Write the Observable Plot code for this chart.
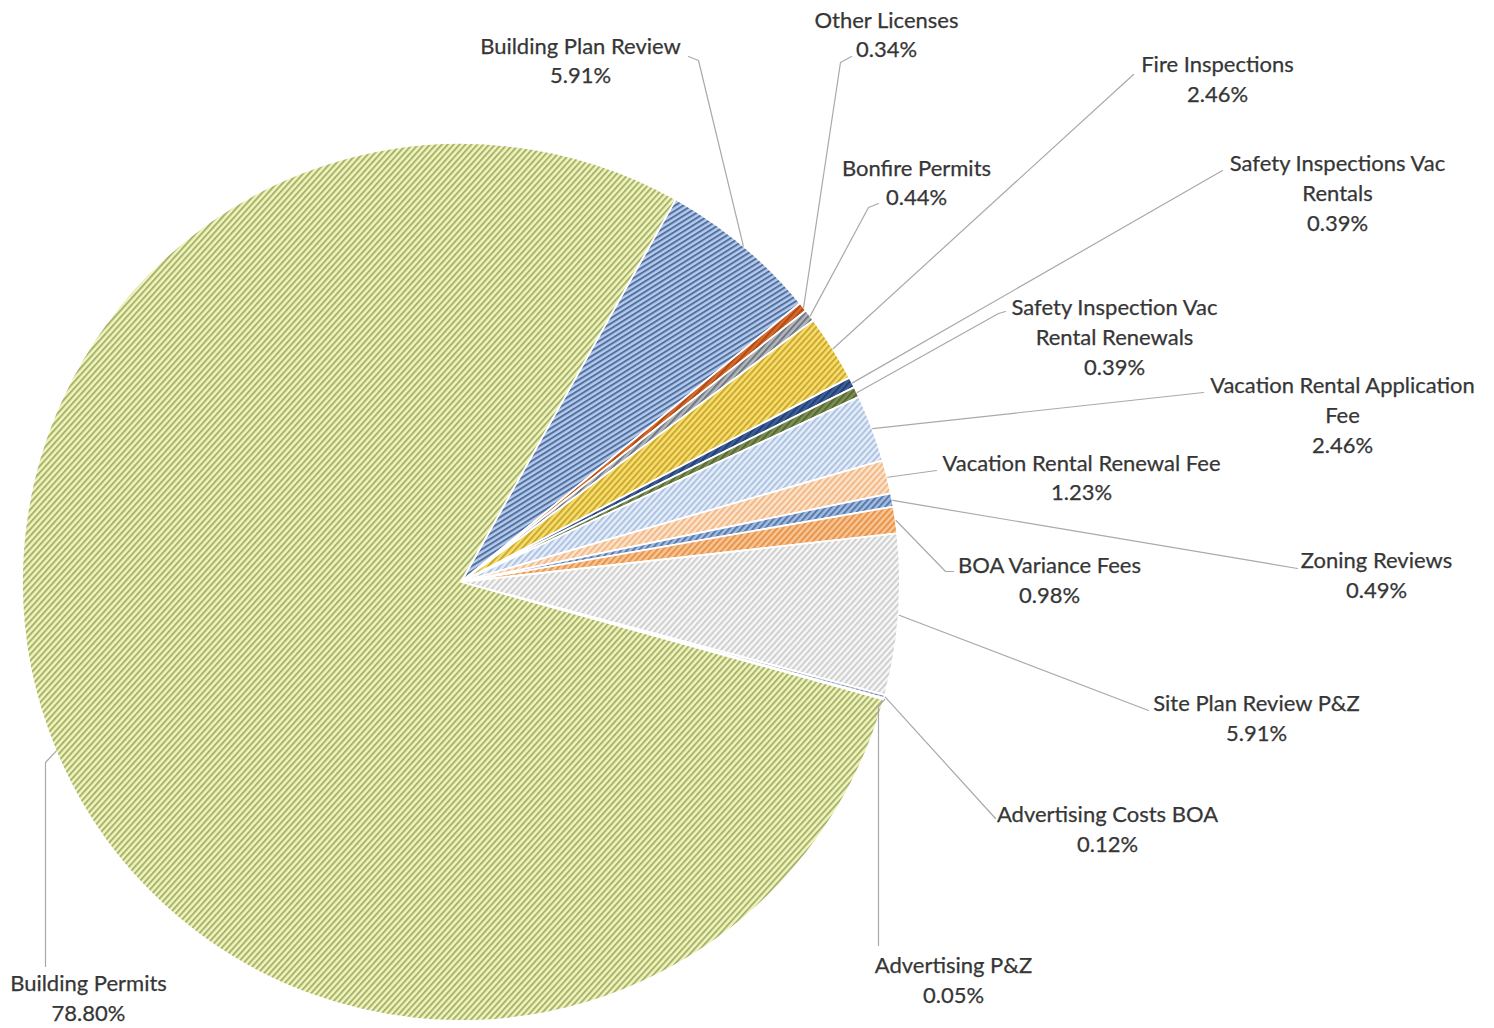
<!DOCTYPE html>
<html>
<head>
<meta charset="utf-8">
<script src="https://cdn.jsdelivr.net/npm/d3@7"></script>
<script src="https://cdn.jsdelivr.net/npm/@observablehq/plot@0.6"></script>
<style>
  html, body { margin: 0; padding: 0; background: #ffffff; }
  #chart { width: 1494px; height: 1028px; }
</style>
</head>
<body>
<div id="chart"></div>
<script>
// ---------- DATA ----------
const categories = [
  "Building Plan Review",
  "Other Licenses",
  "Bonfire Permits",
  "Fire Inspections",
  "Safety Inspections Vac Rentals",
  "Safety Inspection Vac Rental Renewals",
  "Vacation Rental Application Fee",
  "Vacation Rental Renewal Fee",
  "Zoning Reviews",
  "BOA Variance Fees",
  "Site Plan Review P&Z",
  "Advertising Costs BOA",
  "Advertising P&Z",
  "Building Permits"
];
const shares = [5.91, 0.34, 0.44, 2.46, 0.39, 0.39, 2.46, 1.23, 0.49, 0.98, 5.91, 0.12, 0.05, 78.80];
// label text as wrapped in the chart
const labelLines = [
  ["Building Plan Review"],
  ["Other Licenses"],
  ["Bonfire Permits"],
  ["Fire Inspections"],
  ["Safety Inspections Vac", "Rentals"],
  ["Safety Inspection Vac", "Rental Renewals"],
  ["Vacation Rental Application", "Fee"],
  ["Vacation Rental Renewal Fee"],
  ["Zoning Reviews"],
  ["BOA Variance Fees"],
  ["Site Plan Review P&Z"],
  ["Advertising Costs BOA"],
  ["Advertising P&Z"],
  ["Building Permits"]
];

// ---------- STYLE ----------
const baseColors   = ["#b7cbea", "#d66a2a", "#b4b8bd", "#f7df6e", "#3d5f9c", "#7d8f55", "#e6eef9", "#fde3ca", "#a3bee6", "#f8c696", "#f7f7f7", "#b7c7de", "#e7b27a", "#f1f6b6"];
const stripeColors = ["#5271a3", "#b04a16", "#6f7782", "#cca830", "#23406f", "#566934", "#aec2e2", "#f1b888", "#5878a6", "#e8934a", "#cfcfcf", "#7f93b0", "#c88b4a", "#a8b276"];

// ---------- LAYOUT ----------
const W = 1494, H = 1028;
const pieCenter = [461, 582];
const pieRadius = 439;
const startDeg = 29.3;
const labelX = [580, 886, 916, 1217, 1337, 1114, 1342, 1081, 1376, 1049, 1256, 1107, 953, 88];
const labelY = [58.5, 32.5, 180.5, 77, 191, 335, 413, 475.5, 573, 578, 716, 827, 978, 996];
const leaderTail = [
  [[698, 60], [688, 56]],
  [[840, 62], [851, 56]],
  [[868, 207], [878, 203]],
  [[1133, 74]],
  [[1222, 170]],
  [[998, 313], [1005, 311]],
  [[1203, 392]],
  [[936, 470]],
  [[1297, 568]],
  [[945, 571], [953, 571]],
  [[1148, 710]],
  [[995, 818]],
  [[878, 706], [878, 945]],
  [[45, 762], [45, 966]]
];

// ---------- BUILD ----------
const rows = categories.map((c, i) => ({
  i, name: c, value: shares[i],
  label: [...labelLines[i], shares[i].toFixed(2) + "%"].join("\n"),
  lx: labelX[i], ly: labelY[i]
}));

const start = startDeg * Math.PI / 180;
const arcs = d3.pie().sort(null).value(d => d.value)
  .startAngle(start).endAngle(start + 2 * Math.PI)(rows);

const leaderPts = [];
arcs.forEach((a, k) => {
  const mid = (a.startAngle + a.endAngle) / 2;
  const p0 = [pieCenter[0] + pieRadius * Math.sin(mid), pieCenter[1] - pieRadius * Math.cos(mid)];
  [p0, ...leaderTail[k]].forEach(p => leaderPts.push({ name: a.data.name, x: p[0], y: p[1] }));
});

function pieMark(index, scales, values, dimensions, context) {
  const sx = (scales && scales.x) || (v => v);
  const sy = (scales && scales.y) || (v => v);
  const cx = sx(pieCenter[0]), cy = sy(pieCenter[1]);
  const r = sx(pieCenter[0] + pieRadius) - cx;
  const g = d3.create("svg:g");
  const defs = g.append("defs");
  arcs.forEach((a, k) => {
    const p = defs.append("pattern")
      .attr("id", "hatch" + k)
      .attr("patternUnits", "userSpaceOnUse")
      .attr("width", 4.4).attr("height", 4.4)
      .attr("patternTransform", `rotate(${k === 0 ? 58 : 42})`);
    p.append("rect").attr("width", 4.4).attr("height", 4.4).attr("fill", baseColors[k]);
    p.append("rect").attr("width", 2).attr("height", 4.4).attr("fill", stripeColors[k]);
  });
  const arcGen = d3.arc().innerRadius(0).outerRadius(r);
  g.append("g")
    .attr("transform", `translate(${cx},${cy})`)
    .selectAll("path")
    .data(arcs)
    .join("path")
    .attr("d", arcGen)
    .attr("fill", (d, k) => `url(#hatch${k})`)
    .attr("stroke", "#ffffff")
    .attr("stroke-width", 1.8)
    .attr("stroke-linejoin", "round");
  return g.node();
}

const chart = Plot.plot({
  width: W,
  height: H,
  margin: 0,
  x: { domain: [0, W], range: [0, W], axis: null },
  y: { domain: [0, H], range: [0, H], axis: null },
  style: { background: "#ffffff", fontFamily: "Lato, 'Open Sans', sans-serif" },
  marks: [
    pieMark,
    Plot.line(leaderPts, { x: "x", y: "y", z: "name", stroke: "#a9a9a9", strokeWidth: 1.2, curve: "linear" }),
    Plot.text(rows, {
      x: "lx", y: "ly", text: "label",
      textAnchor: "middle", lineAnchor: "middle", lineHeight: 1.345,
      fontSize: 22, fill: "#363636", stroke: "#363636", strokeWidth: 0.25
    })
  ]
});

document.getElementById("chart").appendChild(chart);
</script>
</body>
</html>
